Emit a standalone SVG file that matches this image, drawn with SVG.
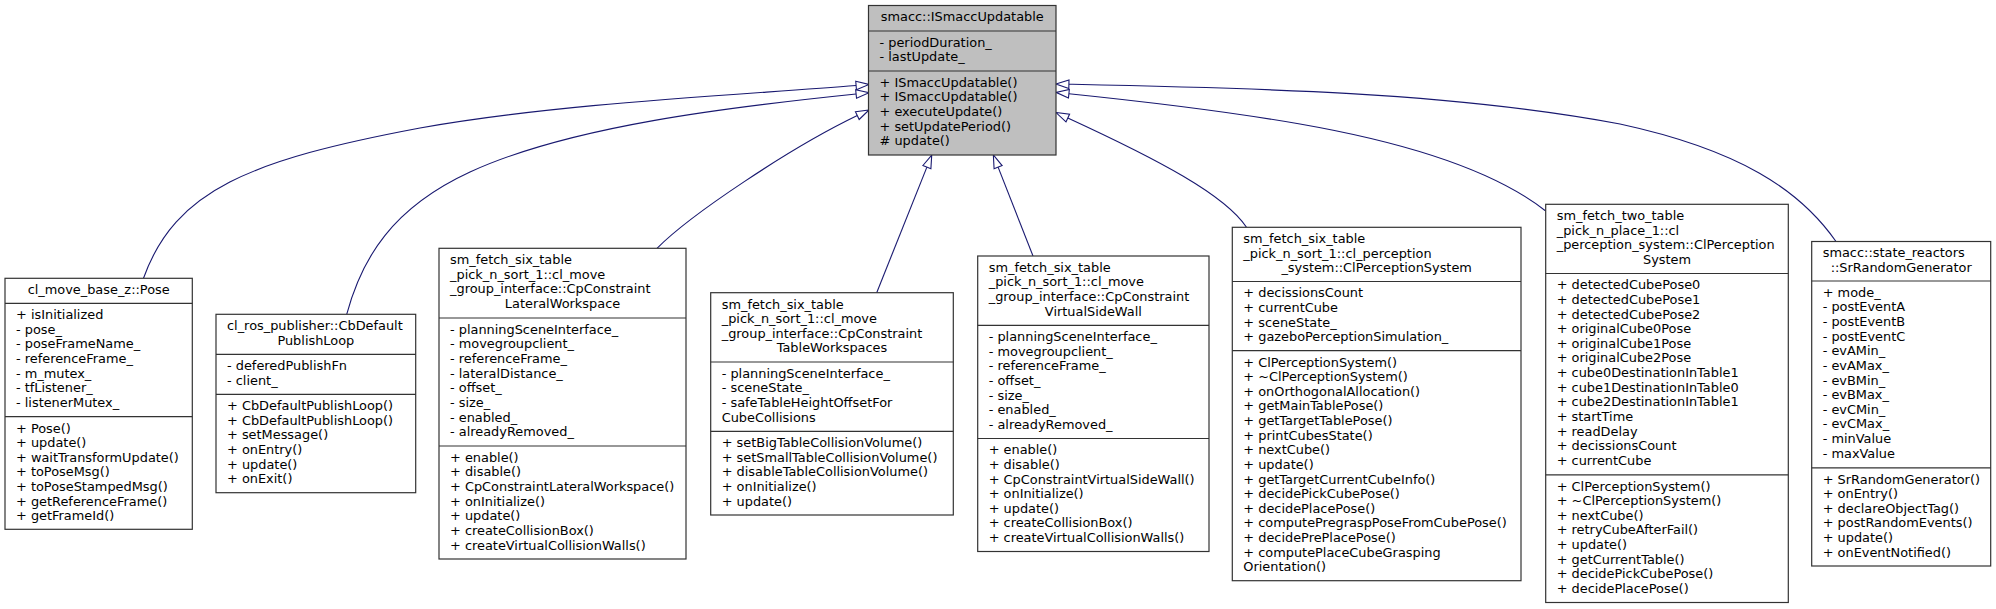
<svg xmlns="http://www.w3.org/2000/svg" width="1996" height="609" viewBox="0 0 1996 609">
<style>
.box{fill:#fff;stroke:#333;stroke-width:1.2}
.root{fill:#bfbfbf}
.sep{stroke:#333;stroke-width:1.2}
text{font-family:"DejaVu Sans","Liberation Sans",sans-serif;font-size:12.9px;fill:#000}
.c{text-anchor:middle}
.edge{fill:none;stroke:#191970;stroke-width:1.1;marker-end:url(#inh)}
</style>
<defs>
<marker id="inh" markerUnits="userSpaceOnUse" markerWidth="16" markerHeight="12" refX="0" refY="5.5" orient="auto" overflow="visible">
<path d="M0,1.2 L13,5.5 L0,9.8 Z" fill="#fff" stroke="#191970" stroke-width="1.1"/>
</marker>
</defs>
<rect width="1996" height="609" fill="#fff"/>
<g id="connectors">
<path class="edge" d="M143.5,278.3 C175,190 250,160 420,128 C560,103 740,95 856.1,85.5"/>
<path class="edge" d="M346.7,314.3 C362,258 392,208 470,172 C570,126 730,107 856.1,94"/>
<path class="edge" d="M657,248.3 C690,215 790,148 857.3,115.6"/>
<path class="edge" d="M876.7,292.7 L926.9,167.1"/>
<path class="edge" d="M1033,256 L998.1,167.1"/>
<path class="edge" d="M1246.5,227.3 C1225,195 1159,160 1067.8,118"/>
<path class="edge" d="M1545.7,211 C1500,175 1420,145 1300,124 C1220,110 1130,100 1068.9,93.7"/>
<path class="edge" d="M1836,241.5 C1800,190 1740,150 1620,124 C1450,92 1250,88 1068.9,84.2"/>
</g>
<g id="ISmaccUpdatable">
<rect class="box root" x="868.5" y="5.5" width="187.5" height="149.5"/>
<line class="sep" x1="868.5" y1="31" x2="1056" y2="31"/>
<line class="sep" x1="868.5" y1="71" x2="1056" y2="71"/>
<text class="c" x="962.25" y="21.1">smacc::ISmaccUpdatable</text>
<text x="879.5" y="46.8"><tspan x="879.5">- periodDuration_</tspan><tspan x="879.5" dy="14.63">- lastUpdate_</tspan></text>
<text x="879.5" y="86.8"><tspan x="879.5">+ ISmaccUpdatable()</tspan><tspan x="879.5" dy="14.63">+ ISmaccUpdatable()</tspan><tspan x="879.5" dy="14.63">+ executeUpdate()</tspan><tspan x="879.5" dy="14.63">+ setUpdatePeriod()</tspan><tspan x="879.5" dy="14.63"># update()</tspan></text>
</g>
<g id="Pose">
<rect class="box" x="5" y="278.3" width="187.3" height="251"/>
<line class="sep" x1="5" y1="303.3" x2="192.3" y2="303.3"/>
<line class="sep" x1="5" y1="416.7" x2="192.3" y2="416.7"/>
<text class="c" x="98.65" y="294.1">cl_move_base_z::Pose</text>
<text x="16" y="319.1"><tspan x="16">+ isInitialized</tspan><tspan x="16" dy="14.63">- pose_</tspan><tspan x="16" dy="14.63">- poseFrameName_</tspan><tspan x="16" dy="14.63">- referenceFrame_</tspan><tspan x="16" dy="14.63">- m_mutex_</tspan><tspan x="16" dy="14.63">- tfListener_</tspan><tspan x="16" dy="14.63">- listenerMutex_</tspan></text>
<text x="16" y="432.5"><tspan x="16">+ Pose()</tspan><tspan x="16" dy="14.63">+ update()</tspan><tspan x="16" dy="14.63">+ waitTransformUpdate()</tspan><tspan x="16" dy="14.63">+ toPoseMsg()</tspan><tspan x="16" dy="14.63">+ toPoseStampedMsg()</tspan><tspan x="16" dy="14.63">+ getReferenceFrame()</tspan><tspan x="16" dy="14.63">+ getFrameId()</tspan></text>
</g>
<g id="CbDefaultPublishLoop">
<rect class="box" x="216" y="314.3" width="199.7" height="178.4"/>
<line class="sep" x1="216" y1="354.3" x2="415.7" y2="354.3"/>
<line class="sep" x1="216" y1="394.3" x2="415.7" y2="394.3"/>
<text x="227" y="330.1">cl_ros_publisher::CbDefault</text>
<text class="c" x="315.85" y="344.73">PublishLoop</text>
<text x="227" y="370.1"><tspan x="227">- deferedPublishFn</tspan><tspan x="227" dy="14.63">- client_</tspan></text>
<text x="227" y="410.1"><tspan x="227">+ CbDefaultPublishLoop()</tspan><tspan x="227" dy="14.63">+ CbDefaultPublishLoop()</tspan><tspan x="227" dy="14.63">+ setMessage()</tspan><tspan x="227" dy="14.63">+ onEntry()</tspan><tspan x="227" dy="14.63">+ update()</tspan><tspan x="227" dy="14.63">+ onExit()</tspan></text>
</g>
<g id="CpConstraintLateralWorkspace">
<rect class="box" x="439" y="248.3" width="247" height="310.7"/>
<line class="sep" x1="439" y1="318" x2="686" y2="318"/>
<line class="sep" x1="439" y1="446" x2="686" y2="446"/>
<text x="450" y="264.1"><tspan x="450">sm_fetch_six_table</tspan><tspan x="450" dy="14.63">_pick_n_sort_1::cl_move</tspan><tspan x="450" dy="14.63">_group_interface::CpConstraint</tspan></text>
<text class="c" x="562.5" y="307.99">LateralWorkspace</text>
<text x="450" y="333.8"><tspan x="450">- planningSceneInterface_</tspan><tspan x="450" dy="14.63">- movegroupclient_</tspan><tspan x="450" dy="14.63">- referenceFrame_</tspan><tspan x="450" dy="14.63">- lateralDistance_</tspan><tspan x="450" dy="14.63">- offset_</tspan><tspan x="450" dy="14.63">- size_</tspan><tspan x="450" dy="14.63">- enabled_</tspan><tspan x="450" dy="14.63">- alreadyRemoved_</tspan></text>
<text x="450" y="461.8"><tspan x="450">+ enable()</tspan><tspan x="450" dy="14.63">+ disable()</tspan><tspan x="450" dy="14.63">+ CpConstraintLateralWorkspace()</tspan><tspan x="450" dy="14.63">+ onInitialize()</tspan><tspan x="450" dy="14.63">+ update()</tspan><tspan x="450" dy="14.63">+ createCollisionBox()</tspan><tspan x="450" dy="14.63">+ createVirtualCollisionWalls()</tspan></text>
</g>
<g id="CpConstraintTableWorkspaces">
<rect class="box" x="710.7" y="292.7" width="242.6" height="222.3"/>
<line class="sep" x1="710.7" y1="362" x2="953.3" y2="362"/>
<line class="sep" x1="710.7" y1="431.3" x2="953.3" y2="431.3"/>
<text x="721.7" y="308.5"><tspan x="721.7">sm_fetch_six_table</tspan><tspan x="721.7" dy="14.63">_pick_n_sort_1::cl_move</tspan><tspan x="721.7" dy="14.63">_group_interface::CpConstraint</tspan></text>
<text class="c" x="832" y="352.39">TableWorkspaces</text>
<text x="721.7" y="377.8"><tspan x="721.7">- planningSceneInterface_</tspan><tspan x="721.7" dy="14.63">- sceneState_</tspan><tspan x="721.7" dy="14.63">- safeTableHeightOffsetFor</tspan><tspan x="721.7" dy="14.63">CubeCollisions</tspan></text>
<text x="721.7" y="447.1"><tspan x="721.7">+ setBigTableCollisionVolume()</tspan><tspan x="721.7" dy="14.63">+ setSmallTableCollisionVolume()</tspan><tspan x="721.7" dy="14.63">+ disableTableCollisionVolume()</tspan><tspan x="721.7" dy="14.63">+ onInitialize()</tspan><tspan x="721.7" dy="14.63">+ update()</tspan></text>
</g>
<g id="CpConstraintVirtualSideWall">
<rect class="box" x="977.7" y="256" width="231.3" height="295.5"/>
<line class="sep" x1="977.7" y1="325.3" x2="1209" y2="325.3"/>
<line class="sep" x1="977.7" y1="438.5" x2="1209" y2="438.5"/>
<text x="988.7" y="271.8"><tspan x="988.7">sm_fetch_six_table</tspan><tspan x="988.7" dy="14.63">_pick_n_sort_1::cl_move</tspan><tspan x="988.7" dy="14.63">_group_interface::CpConstraint</tspan></text>
<text class="c" x="1093.35" y="315.69">VirtualSideWall</text>
<text x="988.7" y="341.1"><tspan x="988.7">- planningSceneInterface_</tspan><tspan x="988.7" dy="14.63">- movegroupclient_</tspan><tspan x="988.7" dy="14.63">- referenceFrame_</tspan><tspan x="988.7" dy="14.63">- offset_</tspan><tspan x="988.7" dy="14.63">- size_</tspan><tspan x="988.7" dy="14.63">- enabled_</tspan><tspan x="988.7" dy="14.63">- alreadyRemoved_</tspan></text>
<text x="988.7" y="454.3"><tspan x="988.7">+ enable()</tspan><tspan x="988.7" dy="14.63">+ disable()</tspan><tspan x="988.7" dy="14.63">+ CpConstraintVirtualSideWall()</tspan><tspan x="988.7" dy="14.63">+ onInitialize()</tspan><tspan x="988.7" dy="14.63">+ update()</tspan><tspan x="988.7" dy="14.63">+ createCollisionBox()</tspan><tspan x="988.7" dy="14.63">+ createVirtualCollisionWalls()</tspan></text>
</g>
<g id="ClPerceptionSystemSix">
<rect class="box" x="1232.3" y="227.3" width="288.7" height="353.4"/>
<line class="sep" x1="1232.3" y1="281.5" x2="1521" y2="281.5"/>
<line class="sep" x1="1232.3" y1="350.7" x2="1521" y2="350.7"/>
<text x="1243.3" y="243.1"><tspan x="1243.3">sm_fetch_six_table</tspan><tspan x="1243.3" dy="14.63">_pick_n_sort_1::cl_perception</tspan></text>
<text class="c" x="1376.65" y="272.36">_system::ClPerceptionSystem</text>
<text x="1243.3" y="297.3"><tspan x="1243.3">+ decissionsCount</tspan><tspan x="1243.3" dy="14.63">+ currentCube</tspan><tspan x="1243.3" dy="14.63">+ sceneState_</tspan><tspan x="1243.3" dy="14.63">+ gazeboPerceptionSimulation_</tspan></text>
<text x="1243.3" y="366.5"><tspan x="1243.3">+ ClPerceptionSystem()</tspan><tspan x="1243.3" dy="14.63">+ ~ClPerceptionSystem()</tspan><tspan x="1243.3" dy="14.63">+ onOrthogonalAllocation()</tspan><tspan x="1243.3" dy="14.63">+ getMainTablePose()</tspan><tspan x="1243.3" dy="14.63">+ getTargetTablePose()</tspan><tspan x="1243.3" dy="14.63">+ printCubesState()</tspan><tspan x="1243.3" dy="14.63">+ nextCube()</tspan><tspan x="1243.3" dy="14.63">+ update()</tspan><tspan x="1243.3" dy="14.63">+ getTargetCurrentCubeInfo()</tspan><tspan x="1243.3" dy="14.63">+ decidePickCubePose()</tspan><tspan x="1243.3" dy="14.63">+ decidePlacePose()</tspan><tspan x="1243.3" dy="14.63">+ computePregraspPoseFromCubePose()</tspan><tspan x="1243.3" dy="14.63">+ decidePrePlacePose()</tspan><tspan x="1243.3" dy="14.63">+ computePlaceCubeGrasping</tspan><tspan x="1243.3" dy="14.63">Orientation()</tspan></text>
</g>
<g id="ClPerceptionSystemTwo">
<rect class="box" x="1545.7" y="204.3" width="242.6" height="398.2"/>
<line class="sep" x1="1545.7" y1="273.5" x2="1788.3" y2="273.5"/>
<line class="sep" x1="1545.7" y1="474.8" x2="1788.3" y2="474.8"/>
<text x="1556.7" y="220.1"><tspan x="1556.7">sm_fetch_two_table</tspan><tspan x="1556.7" dy="14.63">_pick_n_place_1::cl</tspan><tspan x="1556.7" dy="14.63">_perception_system::ClPerception</tspan></text>
<text class="c" x="1667" y="263.99">System</text>
<text x="1556.7" y="289.3"><tspan x="1556.7">+ detectedCubePose0</tspan><tspan x="1556.7" dy="14.63">+ detectedCubePose1</tspan><tspan x="1556.7" dy="14.63">+ detectedCubePose2</tspan><tspan x="1556.7" dy="14.63">+ originalCube0Pose</tspan><tspan x="1556.7" dy="14.63">+ originalCube1Pose</tspan><tspan x="1556.7" dy="14.63">+ originalCube2Pose</tspan><tspan x="1556.7" dy="14.63">+ cube0DestinationInTable1</tspan><tspan x="1556.7" dy="14.63">+ cube1DestinationInTable0</tspan><tspan x="1556.7" dy="14.63">+ cube2DestinationInTable1</tspan><tspan x="1556.7" dy="14.63">+ startTime</tspan><tspan x="1556.7" dy="14.63">+ readDelay</tspan><tspan x="1556.7" dy="14.63">+ decissionsCount</tspan><tspan x="1556.7" dy="14.63">+ currentCube</tspan></text>
<text x="1556.7" y="490.6"><tspan x="1556.7">+ ClPerceptionSystem()</tspan><tspan x="1556.7" dy="14.63">+ ~ClPerceptionSystem()</tspan><tspan x="1556.7" dy="14.63">+ nextCube()</tspan><tspan x="1556.7" dy="14.63">+ retryCubeAfterFail()</tspan><tspan x="1556.7" dy="14.63">+ update()</tspan><tspan x="1556.7" dy="14.63">+ getCurrentTable()</tspan><tspan x="1556.7" dy="14.63">+ decidePickCubePose()</tspan><tspan x="1556.7" dy="14.63">+ decidePlacePose()</tspan></text>
</g>
<g id="SrRandomGenerator">
<rect class="box" x="1811.7" y="241.5" width="179" height="324.5"/>
<line class="sep" x1="1811.7" y1="281" x2="1990.7" y2="281"/>
<line class="sep" x1="1811.7" y1="467.8" x2="1990.7" y2="467.8"/>
<text x="1822.7" y="257.3">smacc::state_reactors</text>
<text class="c" x="1901.2" y="271.93">::SrRandomGenerator</text>
<text x="1822.7" y="296.8"><tspan x="1822.7">+ mode_</tspan><tspan x="1822.7" dy="14.63">- postEventA</tspan><tspan x="1822.7" dy="14.63">- postEventB</tspan><tspan x="1822.7" dy="14.63">- postEventC</tspan><tspan x="1822.7" dy="14.63">- evAMin_</tspan><tspan x="1822.7" dy="14.63">- evAMax_</tspan><tspan x="1822.7" dy="14.63">- evBMin_</tspan><tspan x="1822.7" dy="14.63">- evBMax_</tspan><tspan x="1822.7" dy="14.63">- evCMin_</tspan><tspan x="1822.7" dy="14.63">- evCMax_</tspan><tspan x="1822.7" dy="14.63">- minValue</tspan><tspan x="1822.7" dy="14.63">- maxValue</tspan></text>
<text x="1822.7" y="483.6"><tspan x="1822.7">+ SrRandomGenerator()</tspan><tspan x="1822.7" dy="14.63">+ onEntry()</tspan><tspan x="1822.7" dy="14.63">+ declareObjectTag()</tspan><tspan x="1822.7" dy="14.63">+ postRandomEvents()</tspan><tspan x="1822.7" dy="14.63">+ update()</tspan><tspan x="1822.7" dy="14.63">+ onEventNotified()</tspan></text>
</g>
</svg>
